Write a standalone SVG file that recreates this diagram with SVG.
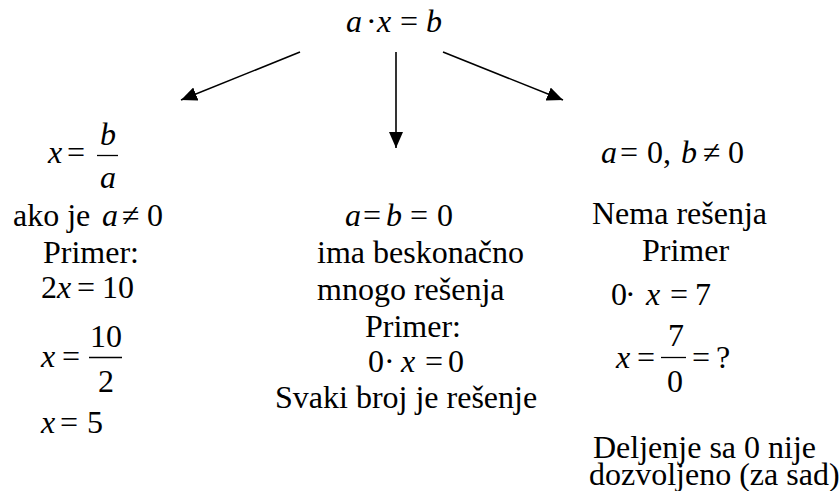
<svg xmlns="http://www.w3.org/2000/svg" width="840" height="491" viewBox="0 0 840 491">
<style>
text{font-family:"Liberation Serif","Times New Roman",serif;font-size:32px;fill:#000}
.i{font-style:italic}
.bar{stroke:#000;stroke-width:1.3}
.conn line{stroke:#000;stroke-width:1.6;marker-end:url(#ah)}
</style>
<defs>
<marker id="ah" viewBox="0 0 16 14" refX="16" refY="7" markerWidth="16" markerHeight="14" markerUnits="userSpaceOnUse" orient="auto">
<path d="M0,0 L16,7 L0,14 z" fill="#000"/>
</marker>
</defs>
<rect width="840" height="491" fill="#fff"/>
<g id="top">
<text x="346" y="32" class="i">a</text>
<text x="366" y="32">·</text>
<text x="377" y="32" class="i">x</text>
<text x="400" y="32">=</text>
<text x="426" y="32" class="i">b</text>
</g>
<g class="conn" id="connectors">
<line x1="300" y1="52" x2="181" y2="100"/>
<line x1="396" y1="52" x2="396" y2="148"/>
<line x1="443" y1="52" x2="563" y2="100"/>
</g>
<g id="left">
<text x="48" y="163" class="i">x</text>
<text x="67" y="163">=</text>
<text x="100" y="145" class="i">b</text>
<line class="bar" x1="97" y1="155.5" x2="118" y2="155.5"/>
<text x="100" y="188" class="i">a</text>
<text x="13" y="226">ako je</text>
<text x="102" y="226" class="i">a</text>
<text x="122" y="226">≠</text>
<text x="147" y="226">0</text>
<text x="43" y="263">Primer:</text>
<text x="41" y="298">2</text>
<text x="57" y="298" class="i">x</text>
<text x="77" y="298">=</text>
<text x="102" y="298">10</text>
<text x="41" y="367" class="i">x</text>
<text x="62" y="367">=</text>
<text x="90" y="347">10</text>
<line class="bar" x1="89" y1="357.5" x2="122" y2="357.5"/>
<text x="98" y="392">2</text>
<text x="41" y="433" class="i">x</text>
<text x="60" y="433">=</text>
<text x="87" y="433">5</text>
</g>
<g id="center">
<text x="345" y="226" class="i">a</text>
<text x="363" y="226">=</text>
<text x="386" y="226" class="i">b</text>
<text x="410" y="226">=</text>
<text x="437" y="226">0</text>
<text x="317" y="263">ima beskonačno</text>
<text x="317" y="300">mnogo rešenja</text>
<text x="365" y="337">Primer:</text>
<text x="368" y="372">0</text>
<text x="384" y="372">·</text>
<text x="401" y="372" class="i">x</text>
<text x="425" y="372">=</text>
<text x="448" y="372">0</text>
<text x="275" y="408">Svaki broj je rešenje</text>
</g>
<g id="right">
<text x="601" y="163" class="i">a</text>
<text x="620" y="163">=</text>
<text x="647" y="163">0,</text>
<text x="681" y="163" class="i">b</text>
<text x="703" y="163">≠</text>
<text x="728" y="163">0</text>
<text x="592" y="224">Nema rešenja</text>
<text x="642" y="261">Primer</text>
<text x="611" y="305">0</text>
<text x="625" y="305">·</text>
<text x="646" y="305" class="i">x</text>
<text x="670" y="305">=</text>
<text x="695" y="305">7</text>
<text x="616" y="368" class="i">x</text>
<text x="637" y="368">=</text>
<text x="668" y="346">7</text>
<line class="bar" x1="661" y1="357.5" x2="686" y2="357.5"/>
<text x="667" y="392">0</text>
<text x="692" y="368">=</text>
<text x="716" y="368">?</text>
<text x="593" y="458">Deljenje sa 0 nije</text>
<text x="589" y="485">dozvoljeno (za sad)</text>
</g>
</svg>
